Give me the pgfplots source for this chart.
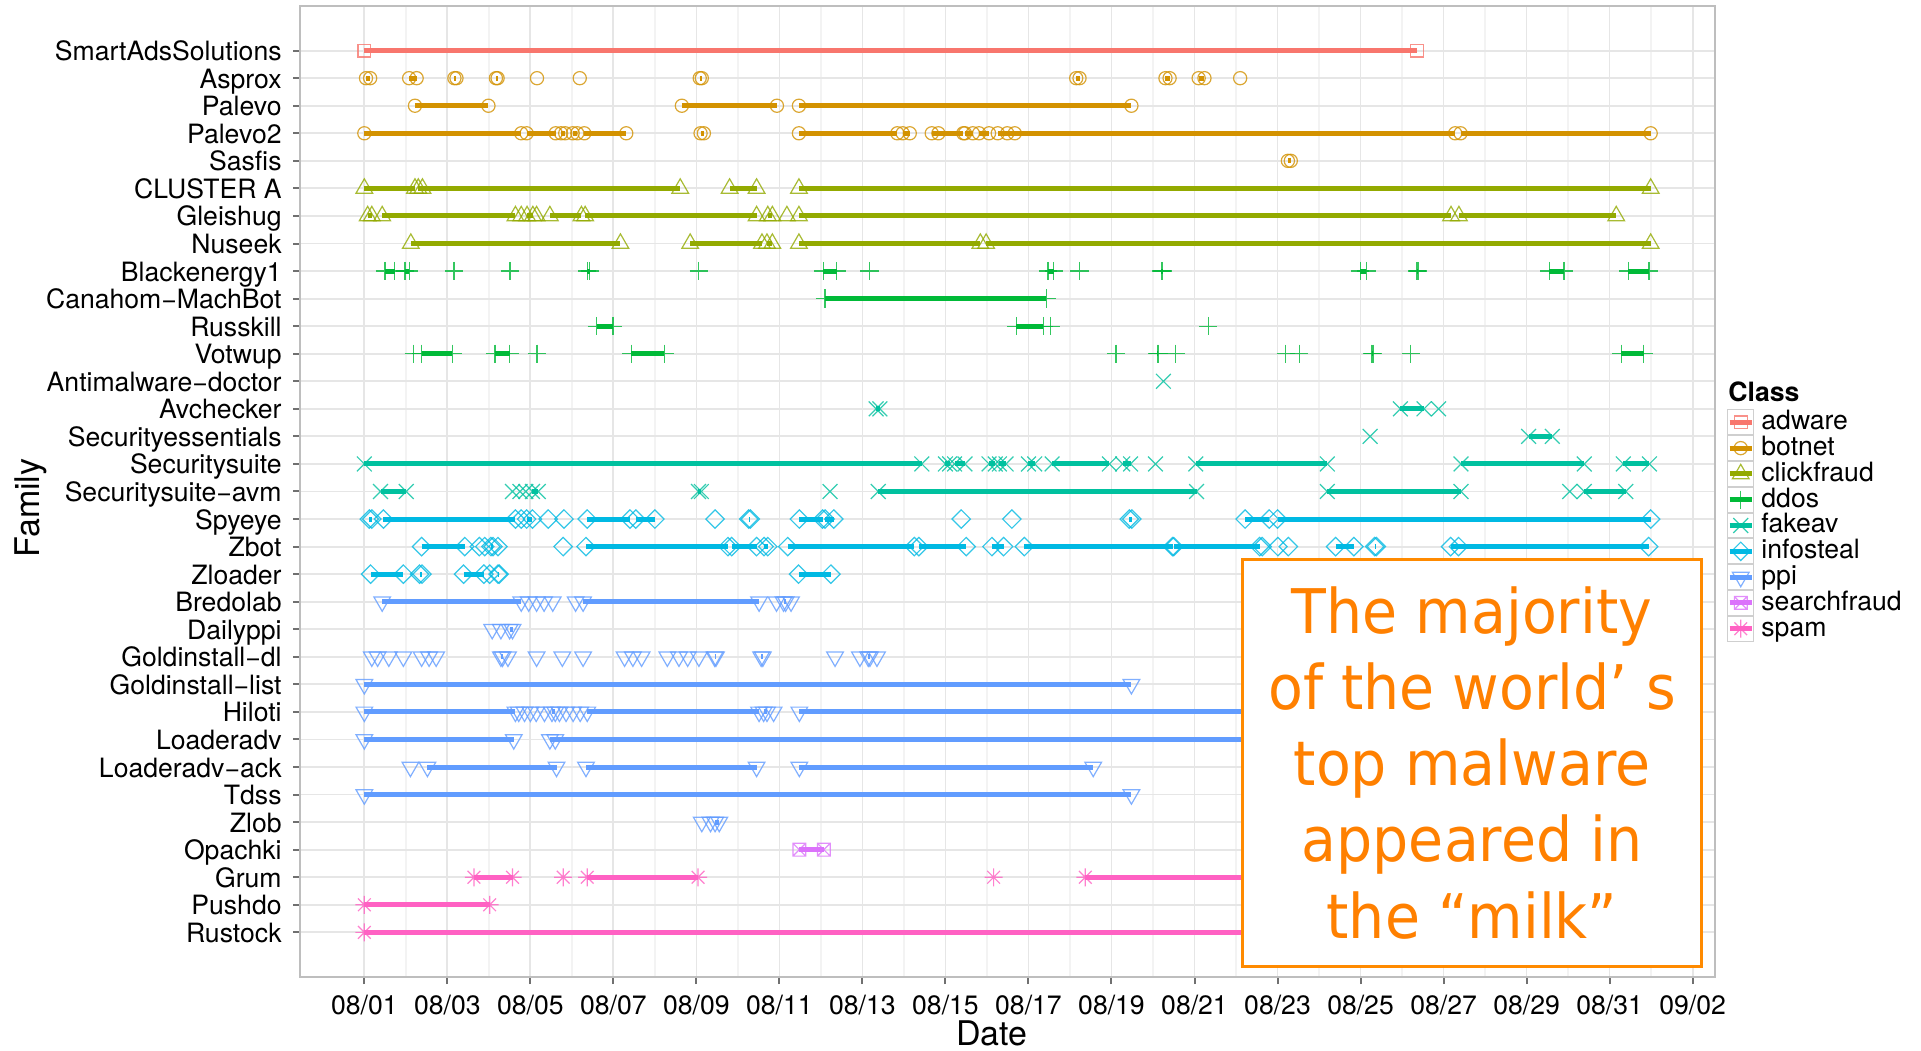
\documentclass[border=0pt]{standalone}
\usepackage{pgfplots}
\pgfplotsset{compat=1.18}
\usepackage{fontspec}
\setmainfont{TeX Gyre Heros}
\newfontfamily\boxfont{DejaVu Sans}
\definecolor{adwarec}{HTML}{F8766D}
\definecolor{botnetc}{HTML}{D39200}
\definecolor{clickc}{HTML}{93AA00}
\definecolor{ddosc}{HTML}{00BA38}
\definecolor{fakeavc}{HTML}{00C19F}
\definecolor{infoc}{HTML}{00B9E3}
\definecolor{ppic}{HTML}{619CFF}
\definecolor{searchc}{HTML}{DB72FB}
\definecolor{spamc}{HTML}{FF61C3}
\definecolor{bordergray}{HTML}{BEBEBE}
\definecolor{majgrid}{HTML}{E6E6E6}
\definecolor{mingrid}{HTML}{F3F3F3}
\definecolor{tickgray}{HTML}{707070}
\definecolor{keygray}{HTML}{CFCFCF}
\definecolor{boxorange}{HTML}{FF8A00}
\definecolor{textorange}{HTML}{FF8000}

\pgfdeclareplotmark{rdiamond}{%
 \pgfpathmoveto{\pgfqpoint{0pt}{\pgfplotmarksize}}%
 \pgfpathlineto{\pgfqpoint{\pgfplotmarksize}{0pt}}%
 \pgfpathlineto{\pgfqpoint{0pt}{-\pgfplotmarksize}}%
 \pgfpathlineto{\pgfqpoint{-\pgfplotmarksize}{0pt}}%
 \pgfpathclose\pgfusepathqstroke}
\pgfdeclareplotmark{rtridown}{%
 \pgfpathmoveto{\pgfqpoint{0pt}{-\pgfplotmarksize}}%
 \pgfpathlineto{\pgfqpoint{0.866\pgfplotmarksize}{0.5\pgfplotmarksize}}%
 \pgfpathlineto{\pgfqpoint{-0.866\pgfplotmarksize}{0.5\pgfplotmarksize}}%
 \pgfpathclose\pgfusepathqstroke}
\pgfdeclareplotmark{rx}{%
 \pgfpathmoveto{\pgfqpoint{-\pgfplotmarksize}{-\pgfplotmarksize}}%
 \pgfpathlineto{\pgfqpoint{\pgfplotmarksize}{\pgfplotmarksize}}%
 \pgfpathmoveto{\pgfqpoint{-\pgfplotmarksize}{\pgfplotmarksize}}%
 \pgfpathlineto{\pgfqpoint{\pgfplotmarksize}{-\pgfplotmarksize}}%
 \pgfusepathqstroke}
\pgfdeclareplotmark{boxx}{%
 \pgfpathrectangle{\pgfqpoint{-\pgfplotmarksize}{-\pgfplotmarksize}}{\pgfqpoint{2\pgfplotmarksize}{2\pgfplotmarksize}}%
 \pgfpathmoveto{\pgfqpoint{-\pgfplotmarksize}{-\pgfplotmarksize}}%
 \pgfpathlineto{\pgfqpoint{\pgfplotmarksize}{\pgfplotmarksize}}%
 \pgfpathmoveto{\pgfqpoint{-\pgfplotmarksize}{\pgfplotmarksize}}%
 \pgfpathlineto{\pgfqpoint{\pgfplotmarksize}{-\pgfplotmarksize}}%
 \pgfusepathqstroke}
\pgfdeclareplotmark{rstar}{%
 \pgfpathmoveto{\pgfqpoint{0pt}{\pgfplotmarksize}}%
 \pgfpathlineto{\pgfqpoint{0pt}{-\pgfplotmarksize}}%
 \pgfpathmoveto{\pgfqpoint{\pgfplotmarksize}{0pt}}%
 \pgfpathlineto{\pgfqpoint{-\pgfplotmarksize}{0pt}}%
 \pgfpathmoveto{\pgfqpoint{0.707\pgfplotmarksize}{0.707\pgfplotmarksize}}%
 \pgfpathlineto{\pgfqpoint{-0.707\pgfplotmarksize}{-0.707\pgfplotmarksize}}%
 \pgfpathmoveto{\pgfqpoint{-0.707\pgfplotmarksize}{0.707\pgfplotmarksize}}%
 \pgfpathlineto{\pgfqpoint{0.707\pgfplotmarksize}{-0.707\pgfplotmarksize}}%
 \pgfusepathqstroke}

\pgfplotsset{
 seg/.style={line width=2.5pt, mark options={solid, line width=0.6pt, draw opacity=0.8, fill=none}},
}

\begin{document}
\begin{tikzpicture}
\useasboundingbox (0,0) rectangle (960.5pt,525pt);
\fill[white] (0,0) rectangle (960.5pt,525pt);
\begin{axis}[
 at={(150pt,36.5pt)}, anchor=south west,
 width=707.5pt, height=485.5pt, scale only axis,
 xmin=-1.55, xmax=32.54, ymin=-0.62, ymax=34.62,
 unbounded coords=jump,
 xtick={0,2,...,32},
 xticklabels={08/01,08/03,08/05,08/07,08/09,08/11,08/13,08/15,08/17,08/19,08/21,08/23,08/25,08/27,08/29,08/31,09/02},
 minor xtick={1,3,...,31},
 ytick={1,...,33},
 yticklabels={Rustock,Pushdo,Grum,Opachki,Zlob,Tdss,Loaderadv−ack,Loaderadv,Hiloti,Goldinstall−list,Goldinstall−dl,Dailyppi,Bredolab,Zloader,Zbot,Spyeye,Securitysuite−avm,Securitysuite,Securityessentials,Avchecker,Antimalware−doctor,Votwup,Russkill,Canahom−MachBot,Blackenergy1,Nuseek,Gleishug,CLUSTER A,Sasfis,Palevo2,Palevo,Asprox,SmartAdsSolutions},
 tick pos=left,
 tick align=outside,
 major tick length=3.5pt, minor tick length=0pt,
 tick style={draw=tickgray, line width=1pt},
 grid=both,
 major grid style={draw=majgrid, line width=0.9pt},
 minor grid style={draw=mingrid, line width=0.7pt},
 axis line style={draw=bordergray, line width=1pt},
 ticklabel style={font=\fontsize{13.3}{16}\selectfont, inner sep=0pt, text=black},
 xticklabel style={anchor=base, yshift=-15.25pt},
 yticklabel style={anchor=base east, yshift=-5pt, xshift=-5.5pt},
 xlabel={Date}, ylabel={Family},
 label style={font=\fontsize{17}{20}\selectfont},
 xlabel style={at={(axis description cs:0.489,-0.0577)}, anchor=center},
 ylabel style={at={(axis description cs:-0.1905,0.483)}, anchor=center, rotate=0},
 legend cell align=left,
 legend style={at={(axis description cs:1.0085,0.5845)}, anchor=north west, draw=none, fill=none,
   inner sep=0pt, outer sep=0pt, row sep=0pt, column sep=3.5pt,
   font=\fontsize{13.3}{16}\selectfont,
   nodes={inner sep=0pt, outer sep=0pt, text height=9.6pt, text depth=2.2pt}},
 legend image code/.code={
   \draw[draw=keygray, fill=white, line width=0.5pt, solid] (0pt,-6.2pt) rectangle (12.8pt,6.2pt);
   \draw[mark repeat=2, mark phase=2, #1] plot coordinates {(0.8pt,0pt) (6.4pt,0pt) (12pt,0pt)};
 },
]
% adware
\addplot[seg, color=adwarec, mark=square, mark size=3.2pt] coordinates {
(0,33) (25.36,33)
};
\addlegendentry{adware}
% botnet
\addplot[seg, color=botnetc, mark=o, mark size=3.3pt] coordinates {
(0.04,32) (0.14,32) (nan,nan)
(1.08,32) (1.26,32) (nan,nan)
(2.17,32) (2.22,32) (nan,nan)
(3.17,32) (3.21,32) (nan,nan)
(4.16,32) (nan,nan)
(5.19,32) (nan,nan)
(8.08,32) (8.13,32) (nan,nan)
(17.15,32) (17.23,32) (nan,nan)
(19.30,32) (19.40,32) (nan,nan)
(20.10,32) (20.24,32) (nan,nan)
(21.10,32) (nan,nan)
(1.22,31) (2.99,31) (nan,nan)
(7.65,31) (9.94,31) (nan,nan)
(10.47,31) (18.48,31) (nan,nan)
(0,30) (3.78,30) (nan,nan)
(3.91,30) (4.61,30) (nan,nan)
(4.74,30) (4.84,30) (nan,nan)
(5.02,30) (5.13,30) (nan,nan)
(5.30,30) (6.31,30) (nan,nan)
(8.10,30) (8.18,30) (nan,nan)
(10.47,30) (12.84,30) (nan,nan)
(12.97,30) (13.14,30) (nan,nan)
(13.67,30) (13.83,30) (14.43,30) (nan,nan)
(14.47,30) (14.66,30) (nan,nan)
(14.81,30) (15.05,30) (nan,nan)
(15.26,30) (15.49,30) (15.67,30) (26.28,30) (nan,nan)
(26.41,30) (30.99,30) (nan,nan)
(22.25,29) (22.32,29)
};
\addlegendentry{botnet}
% clickfraud
\addplot[seg, color=clickc, mark=triangle, mark size=4.8pt] coordinates {
(0,28) (1.22,28) (nan,nan)
(1.30,28) (1.40,28) (7.61,28) (nan,nan)
(8.80,28) (9.45,28) (nan,nan)
(10.47,28) (30.99,28) (nan,nan)
(0.08,27) (0.18,27) (nan,nan)
(0.43,27) (3.64,27) (nan,nan)
(3.78,27) (nan,nan)
(3.92,27) (4.06,27) (nan,nan)
(4.15,27) (nan,nan)
(4.47,27) (5.23,27) (nan,nan)
(5.32,27) (9.45,27) (nan,nan)
(9.72,27) (9.83,27) (nan,nan)
(10.18,27) (nan,nan)
(10.47,27) (26.18,27) (nan,nan)
(26.37,27) (30.16,27) (nan,nan)
(1.12,26) (6.17,26) (nan,nan)
(7.85,26) (9.58,26) (nan,nan)
(9.70,26) (9.83,26) (nan,nan)
(10.47,26) (14.84,26) (nan,nan)
(14.98,26) (30.99,26)
};
\addlegendentry{clickfraud}
% ddos
\addplot[seg, color=ddosc, mark=+, mark size=4.6pt] coordinates {
(0.50,25) (0.73,25) (nan,nan)
(0.98,25) (1.08,25) (nan,nan)
(2.16,25) (nan,nan)
(3.51,25) (nan,nan)
(5.37,25) (5.43,25) (nan,nan)
(8.06,25) (nan,nan)
(11.06,25) (11.38,25) (nan,nan)
(12.17,25) (nan,nan)
(16.47,25) (16.61,25) (nan,nan)
(17.23,25) (nan,nan)
(19.20,25) (19.23,25) (nan,nan)
(23.99,25) (24.14,25) (nan,nan)
(25.36,25) (25.39,25) (nan,nan)
(28.55,25) (28.90,25) (nan,nan)
(30.45,25) (30.95,25) (nan,nan)
(11.10,24) (16.43,24) (nan,nan)
(5.60,23) (5.99,23) (nan,nan)
(15.71,23) (16.36,23) (nan,nan)
(16.53,23) (nan,nan)
(20.33,23) (nan,nan)
(1.19,22) (nan,nan)
(1.38,22) (2.12,22) (nan,nan)
(3.15,22) (3.50,22) (nan,nan)
(4.16,22) (nan,nan)
(6.43,22) (7.23,22) (nan,nan)
(18.11,22) (nan,nan)
(19.10,22) (19.13,22) (nan,nan)
(19.54,22) (nan,nan)
(22.20,22) (nan,nan)
(22.52,22) (nan,nan)
(24.27,22) (24.30,22) (nan,nan)
(25.21,22) (nan,nan)
(30.28,22) (30.82,22)
};
\addlegendentry{ddos}
% fakeav
\addplot[seg, color=fakeavc, mark=rx, mark size=3.7pt] coordinates {
(19.25,21) (nan,nan)
(12.33,20) (12.42,20) (nan,nan)
(24.96,20) (25.53,20) (nan,nan)
(25.88,20) (nan,nan)
(24.23,19) (nan,nan)
(28.05,19) (28.62,19) (nan,nan)
(0,18) (13.43,18) (nan,nan)
(14.00,18) (14.10,18) (nan,nan)
(14.22,18) (14.47,18) (nan,nan)
(15.05,18) (15.20,18) (nan,nan)
(15.30,18) (15.46,18) (nan,nan)
(16.00,18) (16.15,18) (nan,nan)
(16.57,18) (17.95,18) (nan,nan)
(18.27,18) (18.46,18) (nan,nan)
(19.06,18) (nan,nan)
(20.03,18) (23.20,18) (nan,nan)
(26.42,18) (29.39,18) (nan,nan)
(30.33,18) (30.96,18) (nan,nan)
(0.39,17) (1.01,17) (nan,nan)
(3.57,17) (nan,nan)
(3.75,17) (nan,nan)
(3.89,17) (nan,nan)
(4.05,17) (4.19,17) (nan,nan)
(8.05,17) (8.12,17) (nan,nan)
(11.22,17) (nan,nan)
(12.38,17) (20.05,17) (nan,nan)
(23.20,17) (26.42,17) (nan,nan)
(29.04,17) (nan,nan)
(29.39,17) (30.39,17)
};
\addlegendentry{fakeav}
% infosteal
\addplot[seg, color=infoc, mark=rdiamond, mark size=4.6pt] coordinates {
(0.12,16) (0.18,16) (nan,nan)
(0.46,16) (3.64,16) (nan,nan)
(3.78,16) (nan,nan)
(3.91,16) (4.05,16) (nan,nan)
(4.43,16) (nan,nan)
(4.81,16) (nan,nan)
(5.37,16) (6.40,16) (nan,nan)
(6.54,16) (7.00,16) (nan,nan)
(8.45,16) (nan,nan)
(9.26,16) (9.30,16) (nan,nan)
(10.48,16) (11.04,16) (nan,nan)
(11.10,16) (11.31,16) (nan,nan)
(14.38,16) (nan,nan)
(15.60,16) (nan,nan)
(18.43,16) (18.49,16) (nan,nan)
(21.22,16) (21.80,16) (nan,nan)
(22.00,16) (30.99,16) (nan,nan)
(1.38,15) (2.42,15) (nan,nan)
(2.77,15) (nan,nan)
(2.90,15) (nan,nan)
(3.05,15) (3.10,15) (nan,nan)
(3.22,15) (nan,nan)
(4.79,15) (nan,nan)
(5.34,15) (8.76,15) (nan,nan)
(8.85,15) (9.45,15) (nan,nan)
(9.63,15) (9.72,15) (nan,nan)
(10.20,15) (13.25,15) (nan,nan)
(13.36,15) (14.50,15) (nan,nan)
(15.12,15) (15.40,15) (nan,nan)
(15.90,15) (19.47,15) (nan,nan)
(19.50,15) (21.57,15) (nan,nan)
(21.63,15) (nan,nan)
(22.01,15) (nan,nan)
(22.26,15) (nan,nan)
(23.40,15) (23.84,15) (nan,nan)
(24.34,15) (24.38,15) (nan,nan)
(26.17,15) (26.36,15) (30.94,15) (nan,nan)
(0.15,14) (0.94,14) (nan,nan)
(1.33,14) (1.39,14) (nan,nan)
(2.39,14) (2.88,14) (nan,nan)
(3.02,14) (nan,nan)
(3.22,14) (3.25,14) (nan,nan)
(10.46,14) (11.24,14)
};
\addlegendentry{infosteal}
% ppi
\addplot[seg, color=ppic, mark=rtridown, mark size=4.8pt] coordinates {
(0.43,13) (3.78,13) (nan,nan)
(3.96,13) (nan,nan)
(4.15,13) (nan,nan)
(4.33,13) (nan,nan)
(4.54,13) (nan,nan)
(5.09,13) (nan,nan)
(5.27,13) (9.51,13) (nan,nan)
(9.93,13) (nan,nan)
(10.10,13) (10.15,13) (nan,nan)
(10.28,13) (nan,nan)
(3.08,12) (nan,nan)
(3.29,12) (nan,nan)
(3.50,12) (3.57,12) (nan,nan)
(0.18,11) (nan,nan)
(0.32,11) (nan,nan)
(0.59,11) (nan,nan)
(0.94,11) (nan,nan)
(1.38,11) (nan,nan)
(1.56,11) (nan,nan)
(1.73,11) (nan,nan)
(3.29,11) (3.33,11) (nan,nan)
(3.46,11) (nan,nan)
(4.15,11) (nan,nan)
(4.77,11) (nan,nan)
(5.27,11) (nan,nan)
(6.27,11) (nan,nan)
(6.47,11) (nan,nan)
(6.68,11) (nan,nan)
(7.30,11) (nan,nan)
(7.58,11) (nan,nan)
(7.79,11) (nan,nan)
(8.06,11) (nan,nan)
(8.44,11) (8.47,11) (nan,nan)
(9.56,11) (9.60,11) (nan,nan)
(11.34,11) (nan,nan)
(11.94,11) (nan,nan)
(12.14,11) (12.18,11) (nan,nan)
(12.35,11) (nan,nan)
(0,10) (18.48,10) (nan,nan)
(0,9) (3.64,9) (nan,nan)
(3.72,9) (nan,nan)
(3.86,9) (nan,nan)
(4.00,9) (nan,nan)
(4.14,9) (nan,nan)
(4.34,9) (nan,nan)
(4.52,9) (4.60,9) (nan,nan)
(4.70,9) (nan,nan)
(4.86,9) (nan,nan)
(5.03,9) (nan,nan)
(5.20,9) (nan,nan)
(5.37,9) (9.51,9) (nan,nan)
(9.62,9) (9.70,9) (nan,nan)
(9.86,9) (nan,nan)
(10.48,9) (30.99,9) (nan,nan)
(0,8) (3.60,8) (nan,nan)
(4.47,8) (4.60,8) (30.99,8) (nan,nan)
(1.11,7) (nan,nan)
(1.52,7) (4.63,7) (nan,nan)
(5.34,7) (9.45,7) (nan,nan)
(10.48,7) (17.56,7) (nan,nan)
(0,6) (18.48,6) (nan,nan)
(8.13,5) (nan,nan)
(8.34,5) (nan,nan)
(8.45,5) (8.55,5)
};
\addlegendentry{ppi}
% searchfraud
\addplot[seg, color=searchc, mark=boxx, mark size=3.2pt] coordinates {
(10.48,4) (11.07,4)
};
\addlegendentry{searchfraud}
% spam
\addplot[seg, color=spamc, mark=rstar, mark size=4.5pt] coordinates {
(2.64,3) (3.57,3) (nan,nan)
(4.79,3) (nan,nan)
(5.37,3) (8.04,3) (nan,nan)
(15.16,3) (nan,nan)
(17.37,3) (30.99,3) (nan,nan)
(0,2) (3.02,2) (nan,nan)
(0,1) (30.99,1)
};
\addlegendentry{spam}
\end{axis}
\node[anchor=west, inner sep=0pt, font=\fontsize{13.3}{16}\selectfont\bfseries] at (864pt,329pt) {Class};
\node[transform shape, yscale=1.08, draw=boxorange, line width=1.5pt, fill=white, minimum width=229.5pt, minimum height=188pt,
  inner sep=0pt, align=center, text=textorange, font=\boxfont\fontsize{28.5}{35.2}\selectfont]
  at (736pt,143.5pt) {The majority\\of the world’ s\\top malware\\appeared in\\the “milk”};
\end{tikzpicture}
\end{document}
